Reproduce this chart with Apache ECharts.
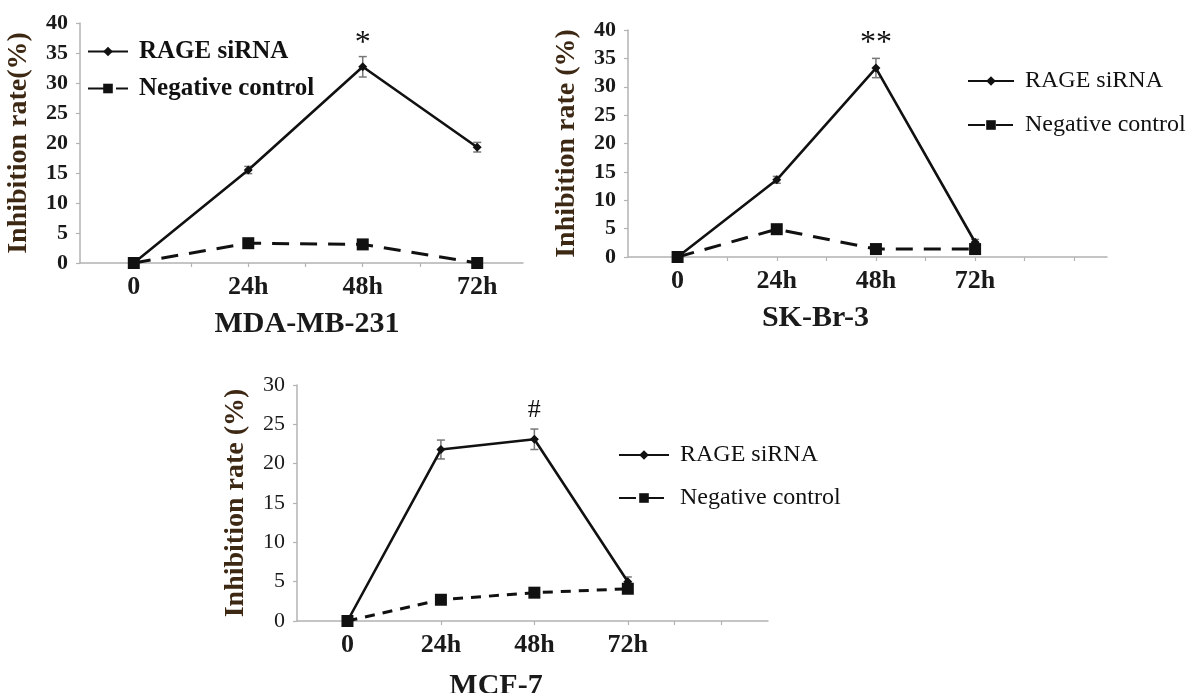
<!DOCTYPE html>
<html>
<head>
<meta charset="utf-8">
<title>Inhibition rate</title>
<script src="https://cdn.jsdelivr.net/npm/echarts@6/dist/echarts.min.js"></script>
<style>
  html, body { margin: 0; padding: 0; background: #fff; }
  #chart { width: 1196px; height: 693px; }
</style>
</head>
<body>
<div id="chart"></div>
<script>
// data
const timePoints = ["0", "24h", "48h", "72h"];
const seriesNames = ["RAGE siRNA", "Negative control"];

// MDA-MB-231
const mdaRage = [0, 15.5, 32.7, 19.3];
const mdaRageErr = [0, 0.6, 1.7, 0.8];
const mdaControl = [0, 3.3, 3.1, 0];
// SK-Br-3
const skRage = [0, 13.6, 33.3, 2.6];
const skRageErr = [0, 0.6, 1.7, 0.5];
const skControl = [0, 4.9, 1.4, 1.4];
// MCF-7
const mcfRage = [0, 21.8, 23.1, 5.0];
const mcfRageErr = [0, 1.2, 1.3, 0.6];
const mcfControl = [0, 2.7, 3.6, 4.1];

const FONT = "'Times New Roman', 'Liberation Serif', serif";
const AXIS_GRAY = "#b3b3b3";

const panels = [
  {
    cell: "MDA-MB-231", yName: "Inhibition rate(%)", mark: "*",
    rage: mdaRage, err: mdaRageErr, ctrl: mdaControl, yMax: 40,
    grid: { left: 80, top: 23, width: 443, height: 240 },
    xMin: -0.47, xMax: 3.4, xTicks: [0, 0.5, 1, 1.5, 2, 2.5, 3],
    dash: [17, 11], tickBold: true, namePad: [0, 0, 0, 11], nameGap: 46,
    legend: { left: 82, top: 34, itemGap: 12, itemWidth: 40, fontSize: 25, bold: true },
    markDist: 3, markSize: 32,
  },
  {
    cell: "SK-Br-3", yName: "Inhibition rate (%)", mark: "**",
    rage: skRage, err: skRageErr, ctrl: skControl, yMax: 40,
    grid: { left: 628, top: 30, width: 479, height: 227 },
    xMin: -0.5, xMax: 4.33, xTicks: [0, 0.5, 1, 1.5, 2, 2.5, 3, 3.5, 4],
    dash: [17, 11], tickBold: true, namePad: [0, 104, 0, 0], nameGap: 46,
    legend: { left: 962, top: 64, itemGap: 20, itemWidth: 46, fontSize: 24, bold: false },
    markDist: 4, markSize: 32,
  },
  {
    cell: "MCF-7", yName: "Inhibition rate (%)", mark: "#",
    rage: mcfRage, err: mcfRageErr, ctrl: mcfControl, yMax: 30,
    grid: { left: 297, top: 385, width: 471, height: 236 },
    xMin: -0.54, xMax: 4.5, xTicks: [0, 1, 2, 3, 3.5, 4],
    dash: [10, 8], tickBold: false, namePad: [0, 73, 0, 0], nameGap: 50,
    legend: { left: 613, top: 438, itemGap: 19, itemWidth: 50, fontSize: 24, bold: false },
    markDist: 12, markSize: 26,
  },
];

function errorBars(idx, values, errs) {
  return {
    type: "custom",
    xAxisIndex: idx,
    yAxisIndex: idx,
    silent: true,
    z: 1,
    data: values.map((v, i) => [i, v - errs[i], v + errs[i]]).filter((d, i) => errs[i] > 0),
    renderItem(params, api) {
      const lo = api.coord([api.value(0), api.value(1)]);
      const hi = api.coord([api.value(0), api.value(2)]);
      const w = 4;
      const style = { stroke: "#777", lineWidth: 1.5 };
      return {
        type: "group",
        children: [
          { type: "line", shape: { x1: lo[0], y1: lo[1], x2: hi[0], y2: hi[1] }, style },
          { type: "line", shape: { x1: lo[0] - w, y1: lo[1], x2: lo[0] + w, y2: lo[1] }, style },
          { type: "line", shape: { x1: hi[0] - w, y1: hi[1], x2: hi[0] + w, y2: hi[1] }, style },
        ],
      };
    },
  };
}

const grid = [], xAxis = [], yAxis = [], legend = [], series = [];

panels.forEach((p, idx) => {
  grid.push(Object.assign({ outerBoundsMode: "none", containLabel: false }, p.grid));

  xAxis.push({
    type: "value",
    gridIndex: idx,
    min: p.xMin,
    max: p.xMax,
    name: p.cell,
    nameLocation: "middle",
    nameGap: p.nameGap,
    nameTextStyle: {
      fontFamily: FONT, fontSize: 30, fontWeight: "bold", color: "#1a1a1a",
      padding: p.namePad,
    },
    splitLine: { show: false },
    axisLine: { onZero: false, lineStyle: { color: AXIS_GRAY, width: 1.5 } },
    axisTick: {
      show: true, length: 4, customValues: p.xTicks,
      lineStyle: { color: AXIS_GRAY, width: 1.2 },
    },
    axisLabel: {
      customValues: [0, 1, 2, 3],
      formatter: (v) => timePoints[Math.round(v)],
      fontFamily: FONT, fontSize: 26, fontWeight: "bold", color: "#1a1a1a",
      margin: 11,
    },
  });

  yAxis.push({
    type: "value",
    gridIndex: idx,
    min: 0,
    max: p.yMax,
    interval: 5,
    name: p.yName,
    nameLocation: "middle",
    nameGap: 47,
    nameTextStyle: {
      fontFamily: FONT, fontSize: 28, fontWeight: "bold", color: "#3d2814",
    },
    splitLine: { show: false },
    axisLine: { show: true, onZero: false, lineStyle: { color: AXIS_GRAY, width: 1.5 } },
    axisTick: { show: true, length: 4, lineStyle: { color: AXIS_GRAY, width: 1.2 } },
    axisLabel: {
      fontFamily: FONT, fontSize: 22,
      fontWeight: p.tickBold ? "bold" : "normal",
      color: "#1a1a1a", margin: 12,
    },
  });

  legend.push({
    data: seriesNames,
    orient: "vertical",
    left: p.legend.left,
    top: p.legend.top,
    itemGap: p.legend.itemGap,
    itemWidth: p.legend.itemWidth,
    itemHeight: 12,
    selectedMode: false,
    textStyle: {
      fontFamily: FONT, fontSize: p.legend.fontSize,
      fontWeight: p.legend.bold ? "bold" : "normal",
      color: "#111", padding: [0, 0, 0, 6],
    },
  });

  series.push(errorBars(idx, p.rage, p.err));

  series.push({
    name: seriesNames[0],
    type: "line",
    xAxisIndex: idx,
    yAxisIndex: idx,
    symbol: "diamond",
    symbolSize: 9,
    z: 3,
    color: "#111",
    lineStyle: { color: "#111", width: 2.6, type: "solid" },
    itemStyle: { color: "#111" },
    data: p.rage.map((v, i) => {
      const item = { value: [i, v] };
      if (i === 2) {
        item.label = {
          show: true, position: "top", distance: p.markDist,
          formatter: p.mark, fontFamily: FONT, fontSize: p.markSize, color: "#111",
        };
      }
      return item;
    }),
    animation: false,
  });

  series.push({
    name: seriesNames[1],
    type: "line",
    xAxisIndex: idx,
    yAxisIndex: idx,
    symbol: "rect",
    symbolSize: 12,
    z: 4,
    color: "#111",
    lineStyle: { color: "#111", width: 3, type: p.dash },
    itemStyle: { color: "#111" },
    data: p.ctrl.map((v, i) => [i, v]),
    animation: false,
  });
});

const chart = echarts.init(document.getElementById("chart"), null, { renderer: "canvas" });
chart.setOption({
  backgroundColor: "#ffffff",
  animation: false,
  grid,
  xAxis,
  yAxis,
  legend,
  series,
});
</script>
</body>
</html>
